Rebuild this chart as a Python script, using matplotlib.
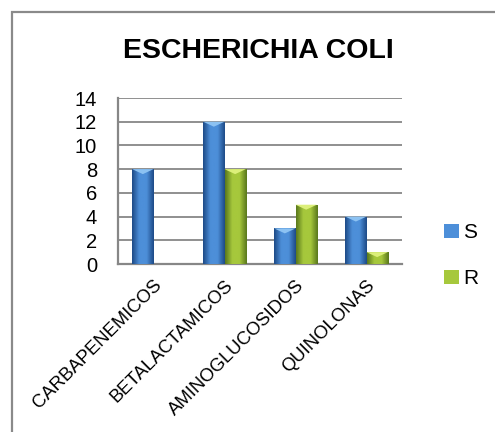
import matplotlib
matplotlib.use("Agg")
import matplotlib.pyplot as plt
import numpy as np
from matplotlib.colors import LinearSegmentedColormap
from matplotlib.patches import Polygon, Rectangle

plt.rcParams['font.family'] = ['Liberation Sans', 'DejaVu Sans']

categories = ['CARBAPENEMICOS', 'BETALACTAMICOS', 'AMINOGLUCOSIDOS', 'QUINOLONAS']
series_s = [8, 12, 3, 4]
series_r = [0, 8, 5, 1]
series_names = ['S', 'R']

# edge / centre / top bevel colours for each series
palette = {
    'S': ('#1d4a86', '#4d8fd9', '#8cc2f2'),
    'R': ('#59771c', '#a6c83c', '#dcef7a'),
}

fig = plt.figure(figsize=(4.95, 4.32), dpi=100)
fig.patch.set_facecolor('white')
ax = fig.add_axes([118 / 495, 168 / 432, 284 / 495, 166 / 432])

x = np.arange(len(categories))
width = 0.3
grid_gray = '#878787'


def gradient_bars(values, offset, name):
    edge, mid, top = palette[name]
    cmap = LinearSegmentedColormap.from_list(name, [edge, mid, mid, edge])
    bars = ax.bar(x + offset, values, width, color=mid, linewidth=0, zorder=2,
                  label=name)
    grad = np.linspace(0, 1, 64).reshape(1, -1)
    for b in bars:
        h = b.get_height()
        if h <= 0:
            continue
        x0 = b.get_x()
        im = ax.imshow(grad, cmap=cmap, extent=(x0, x0 + width, 0, h),
                       aspect='auto', zorder=3, interpolation='bicubic')
        im.set_clip_path(b)
        # light chevron at the top of the bar
        tri = Polygon([(x0, h), (x0 + width, h), (x0 + width / 2, h - 0.42)],
                      closed=True, facecolor=top, edgecolor='none', zorder=4)
        ax.add_patch(tri)
    return bars


gradient_bars(series_s, -width / 2, 'S')
gradient_bars(series_r, width / 2, 'R')

ax.set_xlim(-0.5, len(categories) - 0.5)
ax.set_ylim(0, 14)
ax.set_yticks(np.arange(0, 15, 2))
ax.yaxis.grid(True, color=grid_gray, linewidth=1.3, zorder=0)
ax.set_axisbelow(True)
for side in ['top', 'right']:
    ax.spines[side].set_visible(False)
for side in ['left', 'bottom']:
    ax.spines[side].set_color(grid_gray)
    ax.spines[side].set_linewidth(1.6)
ax.tick_params(axis='y', length=0, pad=15, labelsize=14.5)
ax.tick_params(axis='x', length=0, pad=9)
ax.set_xticks(x)
ax.set_xticklabels(categories, rotation=45, ha='right', rotation_mode='anchor',
                   fontsize=13.3)

fig.text(258 / 495, 1 - 51 / 432, 'ESCHERICHIA COLI', ha='center', va='center',
         fontsize=20.5, fontweight='bold')

ax.legend(loc='center left', bbox_to_anchor=(1.12, 0.05), frameon=False,
          fontsize=15, handlelength=0.7, handleheight=0.7, handletextpad=0.2,
          labelspacing=1.3, borderaxespad=0)

# chart area border (only the top and left edges are in view)
fig.add_artist(Rectangle((12 / 495, -0.1), 1.2, (432 - 12) / 432 + 0.1,
                         transform=fig.transFigure, fill=False,
                         edgecolor='#8a8a8a', linewidth=1.6))

fig.savefig('out.png', dpi=100, facecolor='white')
